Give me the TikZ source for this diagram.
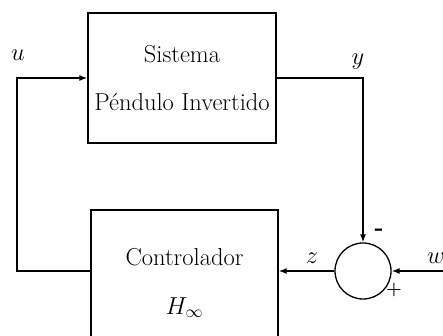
\RequirePackage{fix-cm}
\documentclass[tikz,border=0pt]{standalone}
\usepackage{amsmath,amssymb}
\usepackage{tikz}
\usetikzlibrary{positioning,calc,arrows.meta}
\begin{document}
\begin{tikzpicture}[x=1pt,y=1pt,
  blk/.style={draw,line width=1.3pt,align=center,inner sep=0pt},
  sumc/.style={draw,circle,line width=1.3pt,minimum size=56pt,inner sep=0pt},
  sig/.style={line width=1.3pt,-{Latex[length=8pt,width=6pt]}},
  sgn/.style={font=\fontsize{18}{20}\bfseries},
  every node/.style={font=\fontsize{24.5}{29}\selectfont}]
\useasboundingbox (0,0) rectangle (443,336);
\clip (0,0) rectangle (443,336);
\node[blk,minimum width=188pt,minimum height=130pt] (sys) at (182,258)
 {Sistema\\[19pt]P\'endulo Invertido};
\node[blk,minimum width=187pt,minimum height=146pt] (ctrl) at (184.5,53)
 {Controlador\\[20pt]$H_\infty$};
\node[sumc] (sum) at (363,65) {};
\coordinate (win) at (445,65);
\draw[sig] (ctrl.west |- sum) -- (17,65) -- (17,258) -- (sys.west);
\draw[sig] (sys.east) -| (sum.north);
\draw[sig] (sum.west) -- (ctrl.east |- sum);
\draw[sig] (win) -- (sum.east);
\node at (18,281) {$u$};
\node at (358,274) {$y$};
\node at (312,78) {$z$};
\node at (436,78) {$w$};
\node[sgn,font=\fontsize{24}{26}\bfseries] at (379,104) {-};
\node[sgn] at (394,46) {+};
\end{tikzpicture}
\end{document}
